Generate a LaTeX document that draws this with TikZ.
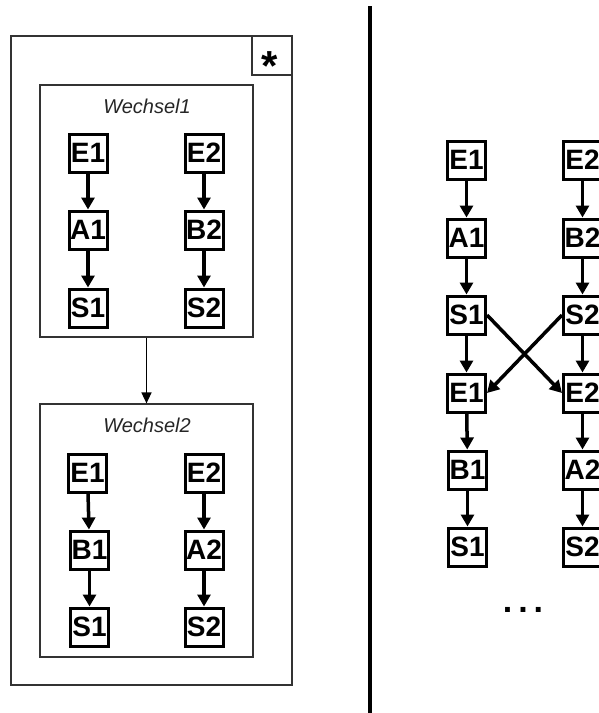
\documentclass[tikz,border=0pt]{standalone}
\usepackage{fontspec}
\setmainfont{Liberation Sans}
\usetikzlibrary{arrows.meta}
\begin{document}
\begin{tikzpicture}[x=1pt,y=-1pt,
  state/.style={draw=black,line width=3pt,fill=white,minimum width=38pt,minimum height=38pt,
    inner sep=0pt,font=\fontsize{28}{30}\selectfont\bfseries},
  flow/.style={line width=3.5pt,-{Triangle[length=12pt,width=13pt]}},
  frame/.style={draw=black!80,line width=1.2pt},
  caption/.style={font=\fontsize{20}{22}\selectfont\itshape,text=black!85,inner sep=0pt},
  link/.style={draw=black,line width=1.5pt,-{Triangle[length=11pt,width=10pt]}}]
\useasboundingbox (0,0) rectangle (599,713);

% outer repeat block with star marker
\node[frame,minimum width=281pt,minimum height=649pt,inner sep=0pt] (outer) at (151.5,360.5) {};
\node[frame,minimum width=40pt,minimum height=39pt,inner sep=0pt] (starbox) at (272,55.5) {};
\node[font=\fontsize{42}{44}\selectfont\bfseries,inner sep=0pt,anchor=base] (star) at (270,80) {*};

% first switch block
\node[frame,minimum width=213pt,minimum height=252pt,inner sep=0pt] (w1) at (146.5,211) {};
\node[caption] (w1t) at (147,106) {Wechsel1};
\node[state] (w1e1) at (88,153) {E1};
\node[state] (w1a1) at (88,230) {A1};
\node[state] (w1s1) at (88,308) {S1};
\node[state] (w1e2) at (204,153) {E2};
\node[state] (w1b2) at (204,230) {B2};
\node[state] (w1s2) at (204,308) {S2};
\draw[flow] (w1e1) -- (w1a1);
\draw[flow] (w1a1) -- (w1s1);
\draw[flow] (w1e2) -- (w1b2);
\draw[flow] (w1b2) -- (w1s2);

% second switch block
\node[frame,minimum width=213pt,minimum height=253pt,inner sep=0pt] (w2) at (146.5,530.5) {};
\node[caption] (w2t) at (147,425) {Wechsel2};
\node[state] (w2e1) at (87.5,473) {E1};
\node[state] (w2b1) at (89.5,550) {B1};
\node[state] (w2s1) at (89.5,627) {S1};
\node[state] (w2e2) at (204,473) {E2};
\node[state] (w2a2) at (204,550) {A2};
\node[state] (w2s2) at (204,627) {S2};
\draw[flow] (w2e1) -- (w2b1);
\draw[flow] (w2b1) -- (w2s1);
\draw[flow] (w2e2) -- (w2a2);
\draw[flow] (w2a2) -- (w2s2);

\draw[link] (w1.south) -- (w2.north);

% divider
\coordinate (dtop) at (369.5,6);
\coordinate (dbot) at (369.5,713);
\draw[line width=4pt] (dtop) -- (dbot);

% unrolled sequence
\node[state] (r1e1) at (466.5,160) {E1};
\node[state] (r1a1) at (466.5,238) {A1};
\node[state] (r1s1) at (466.5,315) {S1};
\node[state] (r2e1) at (466.5,393) {E1};
\node[state] (r2b1) at (467.5,470) {B1};
\node[state] (r2s1) at (467.5,547) {S1};
\node[state] (r1e2) at (582.5,160) {E2};
\node[state] (r1b2) at (582.5,238) {B2};
\node[state] (r1s2) at (582.5,315) {S2};
\node[state] (r2e2) at (582.5,393) {E2};
\node[state] (r2a2) at (582.5,470) {A2};
\node[state] (r2s2) at (582.5,547) {S2};
\draw[flow] (r1e1) -- (r1a1);
\draw[flow] (r1a1) -- (r1s1);
\draw[flow] (r1s1) -- (r2e1);
\draw[flow] (r2e1) -- (r2b1);
\draw[flow] (r2b1) -- (r2s1);
\draw[flow] (r1e2) -- (r1b2);
\draw[flow] (r1b2) -- (r1s2);
\draw[flow] (r1s2) -- (r2e2);
\draw[flow] (r2e2) -- (r2a2);
\draw[flow] (r2a2) -- (r2s2);
\draw[flow] (r1s1.east) -- (r2e2.west);
\draw[flow] (r1s2.west) -- (r2e1.east);

\node[font=\fontsize{34}{36}\selectfont\bfseries,inner sep=0pt,anchor=base] (dots) at (523,612) {.\hspace{6pt}.\hspace{6pt}.};
\end{tikzpicture}
\end{document}
